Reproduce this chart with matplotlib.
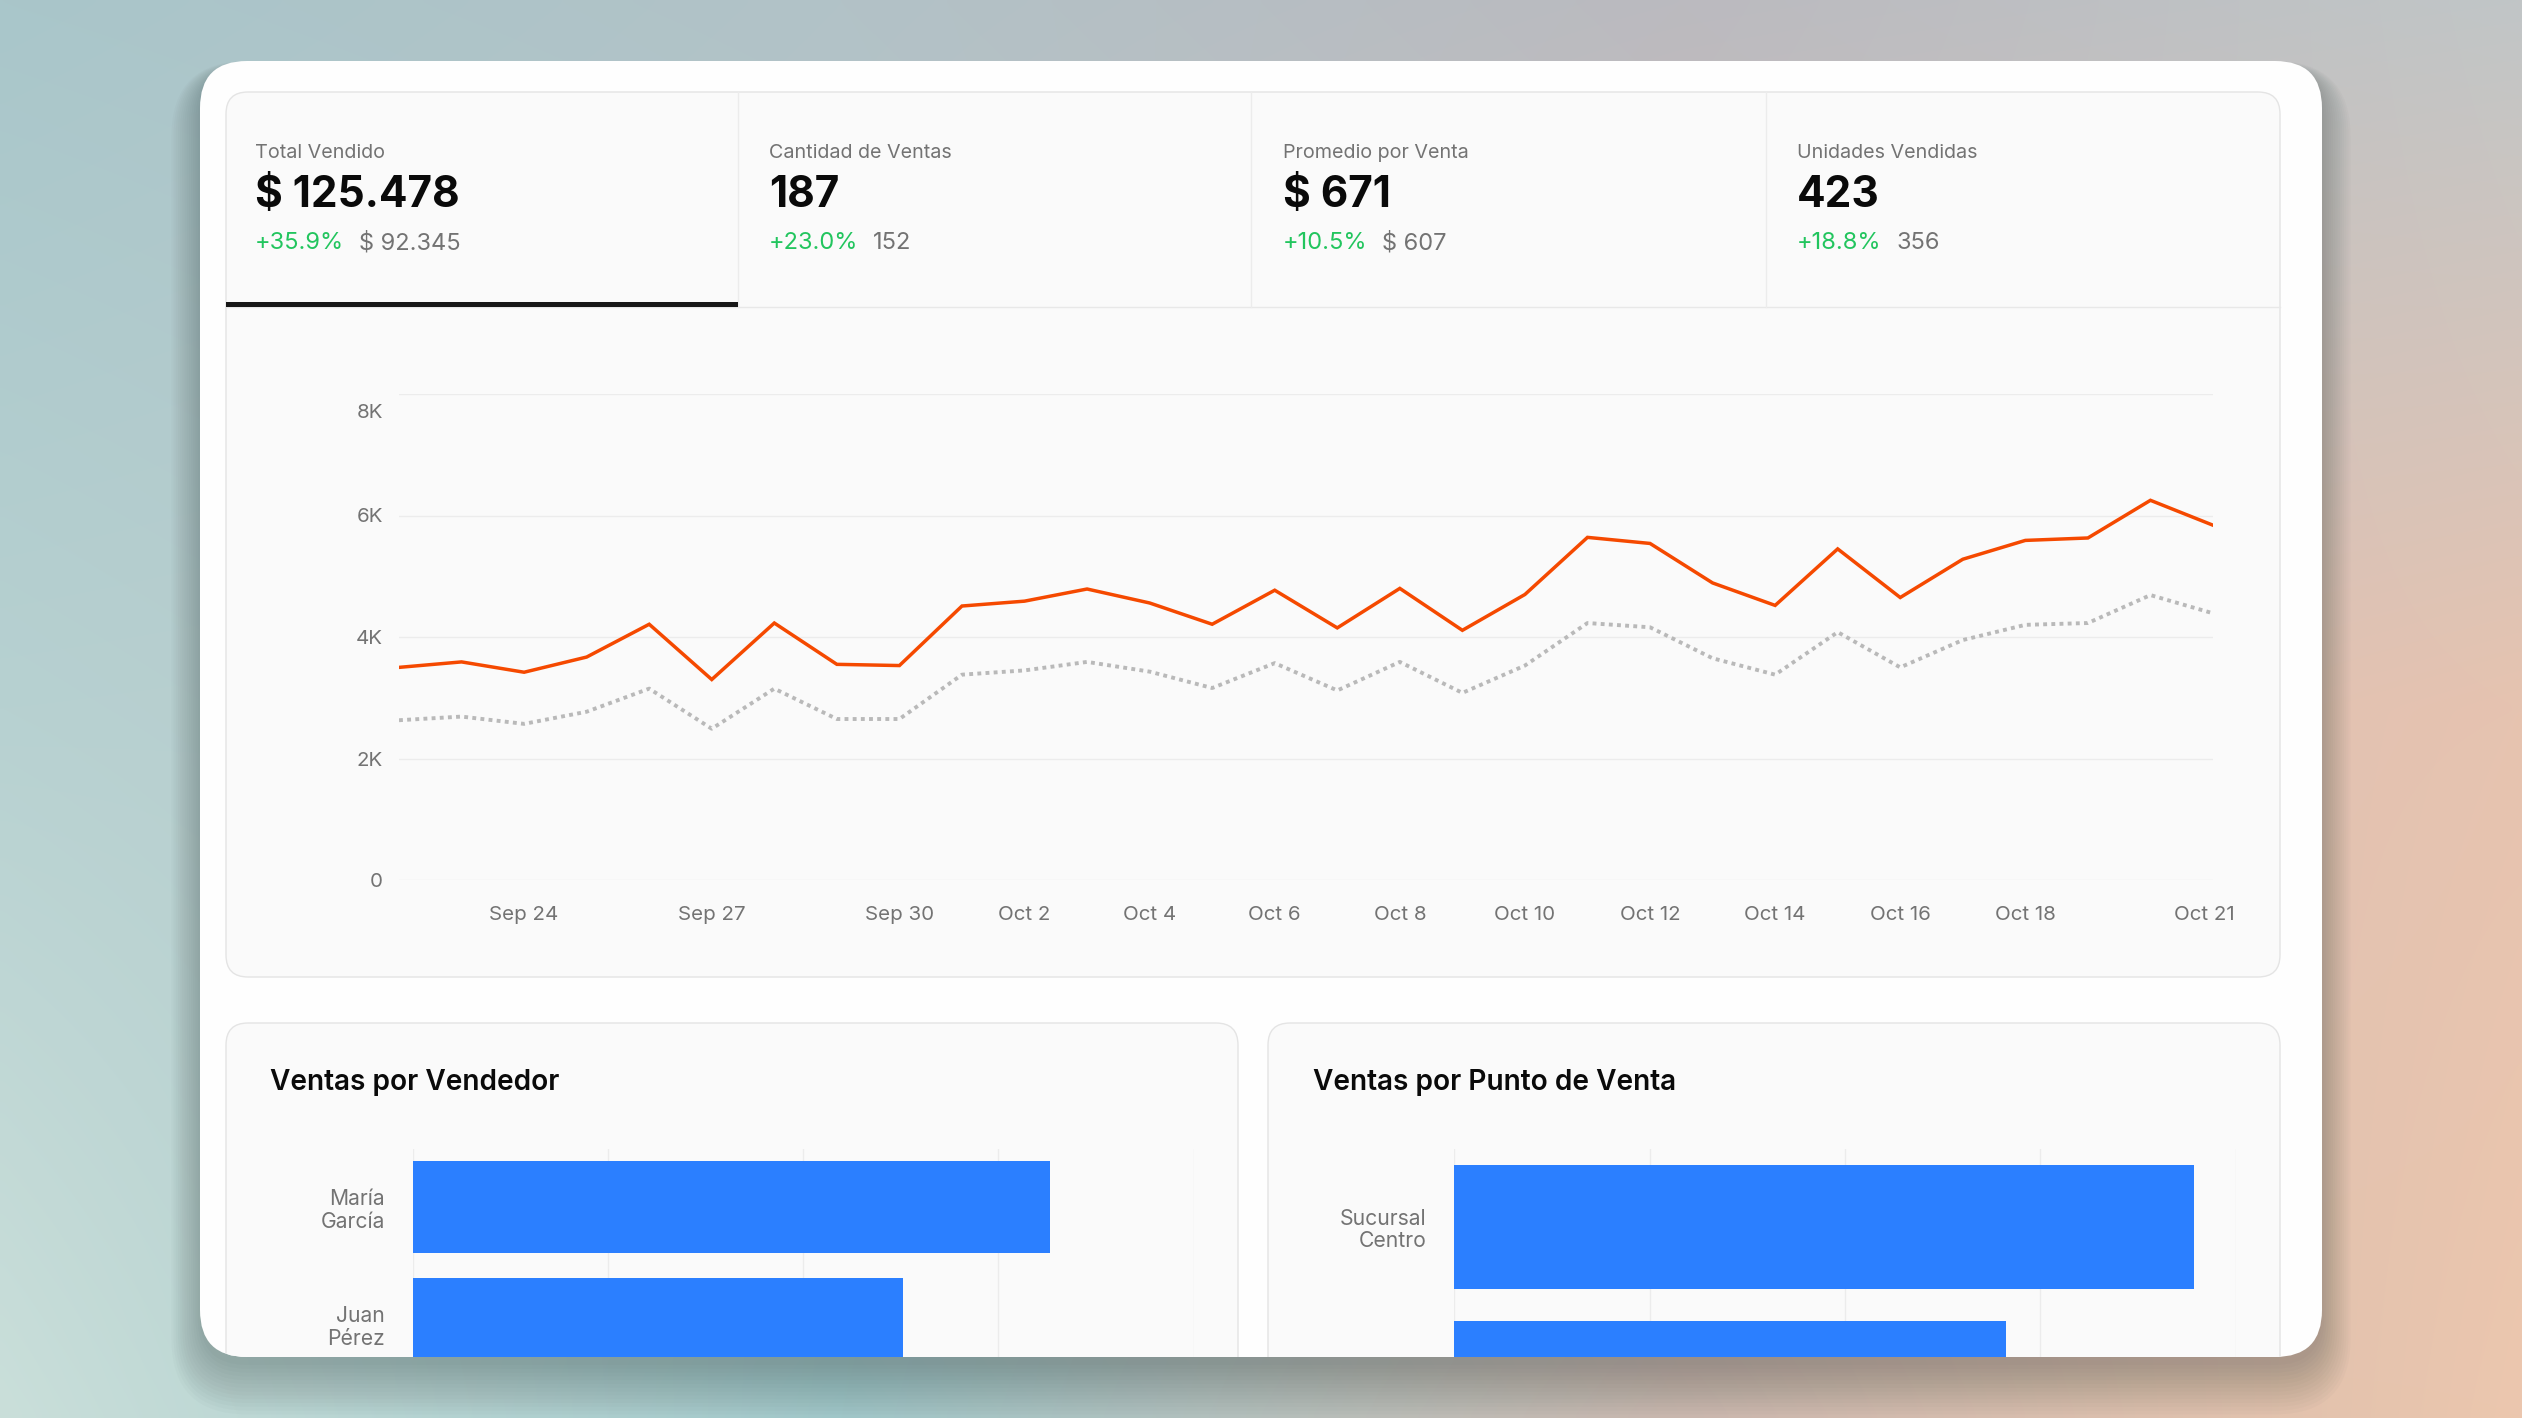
import numpy as np
import matplotlib
matplotlib.use('Agg')
import matplotlib.pyplot as plt
from matplotlib.patches import FancyBboxPatch, Rectangle
from matplotlib.colors import to_rgb
from matplotlib.transforms import ScaledTranslation

plt.rcParams['font.family'] = ['Inter', 'DejaVu Sans']

W, H = 2522, 1418

# ---- data ----
kpi_titulos = ['Total Vendido', 'Cantidad de Ventas', 'Promedio por Venta', 'Unidades Vendidas']
kpi_valores = ['$ 125.478', '187', '$ 671', '423']
kpi_cambios = ['+35.9%', '+23.0%', '+10.5%', '+18.8%']
kpi_previos = ['$ 92.345', '152', '$ 607', '356']

dias = ['Sep 22', 'Sep 23', 'Sep 24', 'Sep 25', 'Sep 26', 'Sep 27', 'Sep 28', 'Sep 29', 'Sep 30',
        'Oct 1', 'Oct 2', 'Oct 3', 'Oct 4', 'Oct 5', 'Oct 6', 'Oct 7', 'Oct 8', 'Oct 9', 'Oct 10',
        'Oct 11', 'Oct 12', 'Oct 13', 'Oct 14', 'Oct 15', 'Oct 16', 'Oct 17', 'Oct 18', 'Oct 19',
        'Oct 20', 'Oct 21']
ventas_actual = [3500, 3590, 3420, 3670, 4210, 3300, 4230, 3550, 3530, 4510, 4590, 4790, 4560, 4210,
                 4770, 4150, 4800, 4110, 4700, 5640, 5540, 4890, 4520, 5450, 4650, 5280, 5590, 5630,
                 6250, 5840]
ventas_anterior = [2630, 2690, 2570, 2770, 3150, 2490, 3150, 2650, 2650, 3380, 3450, 3590, 3430, 3160,
                   3570, 3120, 3590, 3080, 3530, 4230, 4160, 3650, 3380, 4080, 3500, 3950, 4200, 4230,
                   4690, 4390]
dias_mostrados = ['Sep 24', 'Sep 27', 'Sep 30', 'Oct 2', 'Oct 4', 'Oct 6', 'Oct 8', 'Oct 10',
                  'Oct 12', 'Oct 14', 'Oct 16', 'Oct 18', 'Oct 21']
y_ticks = [0, 2000, 4000, 6000, 8000]
y_labels = ['0', '2K', '4K', '6K', '8K']

vendedores = ['María\nGarcía', 'Juan\nPérez']
ventas_vendedor = [48960, 37680]
puntos_venta = ['Sucursal\nCentro', 'Sucursal\nNorte']
ventas_punto = [75720, 56480]

# background colours (rows top->bottom, cols left->right)
fondo = [['#a9c6ca', '#b2c2c7', '#bbbabf', '#c1c6c7'],
         ['#b7d1d1', '#b9c9cb', '#d9c1b8', '#e6c3b0'],
         ['#cadfda', '#9fc6c8', '#c9b6ad', '#ecc7ae']]

fig = plt.figure(figsize=(W / 100, H / 100), dpi=100)
ax0 = fig.add_axes([0, 0, 1, 1])
ax0.axis('off')

# gradient backdrop
ctrl = np.array([[to_rgb(c) for c in row] for row in fondo])
gx = np.linspace(0, 1, ctrl.shape[1])
gy = np.linspace(0, 1, ctrl.shape[0])
u = np.linspace(0, 1, 400)
v = np.linspace(0, 1, 240)
rows = np.array([[np.interp(u, gx, ctrl[r, :, k]) for k in range(3)] for r in range(ctrl.shape[0])])
img = np.empty((len(v), len(u), 3))
for k in range(3):
    for i in range(len(u)):
        img[:, i, k] = np.interp(v, gy, rows[:, k, i])
ax0.imshow(img, extent=[0, W, H, 0], aspect='auto', interpolation='bicubic', zorder=0)
ax0.set_xlim(0, W)
ax0.set_ylim(H, 0)

# card shadow (mostly below the card)
for i in range(14):
    e = i * 2.2
    dy = 8 + i * 1.6
    ax0.add_patch(FancyBboxPatch((200 - e, 61 + dy - e), 2122 + 2 * e, 1296 + 2 * e,
                                 boxstyle='round,pad=0,rounding_size=%g' % (47 + e),
                                 fc='#33403f', ec='none', alpha=0.022, zorder=1))

card = FancyBboxPatch((200, 61), 2122, 1296, boxstyle='round,pad=0,rounding_size=47',
                      fc='#fefefe', ec='none', zorder=2)
ax0.add_patch(card)

# top panel (KPIs + line chart)
ax0.add_patch(FancyBboxPatch((226, 92), 2054, 885, boxstyle='round,pad=0,rounding_size=22',
                             fc='#fafafa', ec='#e4e4e4', lw=1.0, zorder=3))
ax0.plot([226, 2280], [307, 307], color='#e8e8e8', lw=1.0, zorder=4)
for xd in [738, 1251, 1766]:
    ax0.plot([xd, xd], [92, 307], color='#ececec', lw=1.0, zorder=4)
ax0.add_patch(Rectangle((226, 302), 512, 5, fc='#171717', ec='none', zorder=5))

kpi_x = [255, 769, 1283, 1797]
for x0, t, val, cam, prev in zip(kpi_x, kpi_titulos, kpi_valores, kpi_cambios, kpi_previos):
    ax0.text(x0, 158, t, fontsize=14.2, color='#737373', va='baseline', zorder=6)
    ax0.text(x0, 207, val, fontsize=30.5, color='#0a0a0a', fontweight='bold', va='baseline', zorder=6)
    g = ax0.text(x0, 249, cam, fontsize=17.0, color='#22c55e', va='baseline', zorder=6)
    ax0.annotate(prev, xy=(1, 0), xycoords=g, xytext=(15, 0), textcoords='offset pixels',
                 fontsize=17.0, color='#737373', va='bottom', ha='left', zorder=6)

# bottom panels
for px in [226, 1268]:
    p = FancyBboxPatch((px, 1023), 1012, 600, boxstyle='round,pad=0,rounding_size=22',
                       fc='#fafafa', ec='#e4e4e4', lw=1.0, zorder=3)
    ax0.add_patch(p)
    p.set_clip_path(card)
ax0.text(270, 1090, 'Ventas por Vendedor', fontsize=20.2, fontweight='semibold',
         color='#0a0a0a', va='baseline', zorder=6)
ax0.text(1313, 1090, 'Ventas por Punto de Venta', fontsize=20.2, fontweight='semibold',
         color='#0a0a0a', va='baseline', zorder=6)

# ---- line chart ----
ax1 = fig.add_axes([399 / W, 1 - 880 / H, (2213 - 399) / W, (880 - 394) / H])
ax1.set_facecolor('none')
x = np.arange(len(dias))
ax1.plot(x, ventas_anterior, color='#b9b9b9', lw=2.8, linestyle=(0, (1, 1.1)),
         dash_capstyle='butt', zorder=2)
ax1.plot(x, ventas_actual, color='#f54900', lw=2.5, solid_joinstyle='miter', zorder=3)
ax1.set_xlim(0, len(dias) - 1)
ax1.set_ylim(y_ticks[0], y_ticks[-1])
ax1.set_yticks(y_ticks)
ax1.set_yticklabels(y_labels)
ax1.set_xticks([dias.index(d) for d in dias_mostrados])
ax1.set_xticklabels(dias_mostrados)
ax1.grid(axis='y', color='#ececec', lw=1.0)
ax1.set_axisbelow(True)
for s in ax1.spines.values():
    s.set_visible(False)
ax1.tick_params(axis='both', length=0, labelsize=14.8, labelcolor='#737373')
ax1.tick_params(axis='y', pad=11.5)
ax1.tick_params(axis='x', pad=19)
top_lbl = ax1.yaxis.get_major_ticks()[-1].label1
top_lbl.set_transform(top_lbl.get_transform() + ScaledTranslation(0, -0.17, fig.dpi_scale_trans))
last_lbl = ax1.xaxis.get_major_ticks()[-1].label1
last_lbl.set_transform(last_lbl.get_transform() + ScaledTranslation(-0.09, 0, fig.dpi_scale_trans))


# ---- bar charts ----
def barras(rect, nombres, valores, xmax, paso, banda):
    ax = fig.add_axes(rect)
    ax.set_facecolor('none')
    y = np.arange(len(nombres))
    ax.barh(y, valores, height=banda, color='#2b7fff', zorder=3)
    ax.set_xlim(0, xmax)
    ax.set_xticks(np.arange(0, xmax + 1, paso))
    ax.set_xticklabels([])
    ax.set_yticks(y)
    ax.set_yticklabels(nombres, linespacing=1.15)
    ax.grid(axis='x', color='#ececec', lw=1.0, zorder=0)
    for s in ax.spines.values():
        s.set_visible(False)
    ax.tick_params(axis='both', length=0, labelsize=15.2, labelcolor='#737373')
    ax.tick_params(axis='y', pad=20)
    for t in ax.yaxis.get_major_ticks():
        t.label1.set_clip_path(card)
    return ax


ax_h = (1357 - 1149) / H
axl = barras([412.5 / W, 1 - 1357 / H, (1193.7 - 412.5) / W, ax_h],
             vendedores, ventas_vendedor, 60000, 15000, 0.786)
axl.set_ylim(-0.5 + 207.7 / 116.6, -0.5)
axr = barras([1454.3 / W, 1 - 1357 / H, (2235.5 - 1454.3) / W, ax_h],
             puntos_venta, ventas_punto, 80000, 20000, 0.795)
axr.set_ylim(-0.5 + 207.7 / 155.7, -0.5)

fig.savefig('out.png', dpi=100)
